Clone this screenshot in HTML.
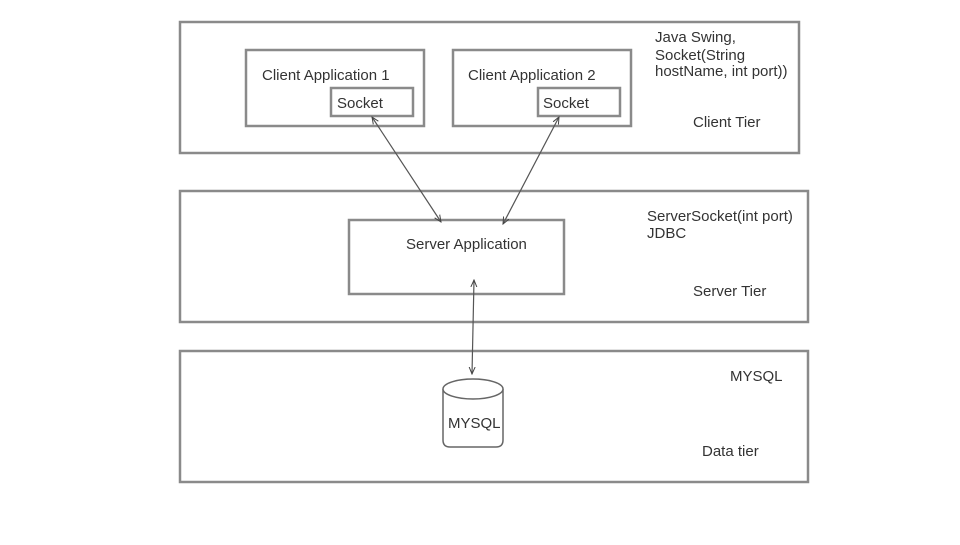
<!DOCTYPE html>
<html><head><style>body{margin:0;background:#fff}</style></head><body>
<svg width="960" height="540" xmlns="http://www.w3.org/2000/svg" font-family="Liberation Sans, sans-serif" font-size="15" fill="#333">
<defs><marker id="a" markerWidth="8" markerHeight="8" refX="7" refY="4" orient="auto-start-reverse" markerUnits="userSpaceOnUse"><path d="M0,1 L7,4 L0,7" fill="none" stroke="#444" stroke-width="1"/></marker></defs>
<g fill="none" stroke="#8a8a8a" stroke-width="2.5">
<rect x="180" y="22" width="619" height="131"/>
<rect x="246" y="50" width="178" height="76"/>
<rect x="331" y="88" width="82" height="28"/>
<rect x="453" y="50" width="178" height="76"/>
<rect x="538" y="88" width="82" height="28"/>
<rect x="180" y="191" width="628" height="131"/>
<rect x="349" y="220" width="215" height="74"/>
<rect x="180" y="351" width="628" height="131"/>
</g>
<g stroke="#555" stroke-width="1.2" fill="none">
<line x1="372" y1="117" x2="441" y2="222" marker-start="url(#a)" marker-end="url(#a)"/>
<line x1="559" y1="117" x2="503" y2="224" marker-start="url(#a)" marker-end="url(#a)"/>
<line x1="474" y1="280" x2="472" y2="374" marker-start="url(#a)" marker-end="url(#a)"/>
</g>
<g stroke="#666" stroke-width="1.5" fill="#fff">
<path d="M443,389 L443,440 Q443,447 450,447 L496,447 Q503,447 503,440 L503,389"/>
<ellipse cx="473" cy="389" rx="30" ry="10"/>
</g>
<text x="262" y="80">Client Application 1</text>
<text x="337" y="108">Socket</text>
<text x="468" y="80">Client Application 2</text>
<text x="543" y="108">Socket</text>
<text x="655" y="42">Java Swing,</text>
<text x="655" y="60">Socket(String</text>
<text x="655" y="76">hostName, int port))</text>
<text x="693" y="127">Client Tier</text>
<text x="406" y="249">Server Application</text>
<text x="647" y="221">ServerSocket(int port)</text>
<text x="647" y="238">JDBC</text>
<text x="693" y="296">Server Tier</text>
<text x="730" y="381">MYSQL</text>
<text x="702" y="456">Data tier</text>
<text x="448" y="428">MYSQL</text>
</svg>
</body></html>
